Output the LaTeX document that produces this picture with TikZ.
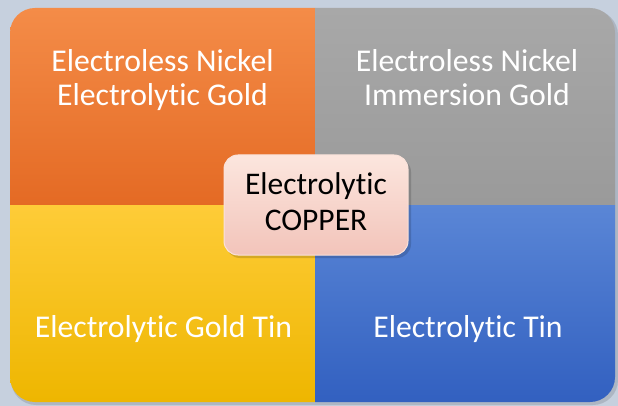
\documentclass[tikz,border=0pt]{standalone}
\usepackage{fontspec}
\setmainfont{Carlito}[Ligatures=NoCommon]
\definecolor{bgc}{RGB}{198,208,222}
\definecolor{orT}{RGB}{244,140,72}
\definecolor{orB}{RGB}{228,106,36}
\definecolor{grT}{RGB}{168,168,168}
\definecolor{grB}{RGB}{154,154,154}
\definecolor{yeT}{RGB}{254,204,56}
\definecolor{yeB}{RGB}{238,182,0}
\definecolor{blT}{RGB}{90,134,214}
\definecolor{blB}{RGB}{50,96,192}
\definecolor{cpT}{RGB}{252,230,222}
\definecolor{cpB}{RGB}{242,196,186}
\definecolor{cpE}{RGB}{250,226,218}
\tikzset{
  quadtext/.style={text=white, anchor=base, inner sep=0pt, font=\fontsize{31.7}{35}\selectfont},
  centertext/.style={text=black, anchor=base, inner sep=0pt, font=\fontsize{31.5}{35}\selectfont},
  centerbox/.style={draw=cpE, line width=1pt, rounded corners=14pt, top color=cpT, bottom color=cpB,
    minimum width=184pt, minimum height=100pt, inner sep=0pt},
}
\begin{document}
\begin{tikzpicture}[x=1pt,y=1pt]
\useasboundingbox (0,0) rectangle (618,-406);
\fill[bgc] (0,0) rectangle (618,-406);
% soft shadow
\fill[black,opacity=0.12,rounded corners=25pt] (11,-10) rectangle (618,-405);
% quadrants
\shade[top color=orT, bottom color=orB] (10,-205) -- (10,-33) arc[start angle=180,end angle=90,radius=25] -- (315,-8) -- (315,-205) -- cycle;
\shade[top color=grT, bottom color=grB] (315,-205) -- (315,-8) -- (590,-8) arc[start angle=90,end angle=0,radius=25] -- (615,-205) -- cycle;
\shade[top color=yeT, bottom color=yeB] (10,-205) -- (315,-205) -- (315,-402) -- (35,-402) arc[start angle=270,end angle=180,radius=25] -- cycle;
\shade[top color=blT, bottom color=blB] (315,-205) -- (615,-205) -- (615,-377) arc[start angle=0,end angle=-90,radius=25] -- (315,-402) -- cycle;
% texts
\node[quadtext] (o1) at (162.5,-72) {Electroless Nickel};
\node[quadtext] (o2) at (162.5,-106) {Electrolytic Gold};
\node[quadtext] (g1) at (467,-72) {Electroless Nickel};
\node[quadtext] (g2) at (467,-106) {Immersion Gold};
\node[quadtext] (y1) at (163.5,-337) {Electrolytic Gold Tin};
\node[quadtext] (b1) at (468,-337) {Electrolytic Tin};
% center
\fill[black,opacity=0.15,rounded corners=14pt] (226,-158) rectangle (411,-258);
\node[centerbox] (copper) at (316,-205) {};
\node[centertext] (c1) at (316,-195) {Electrolytic};
\node[centertext] (c2) at (316,-230) {COPPER};
\end{tikzpicture}
\end{document}
